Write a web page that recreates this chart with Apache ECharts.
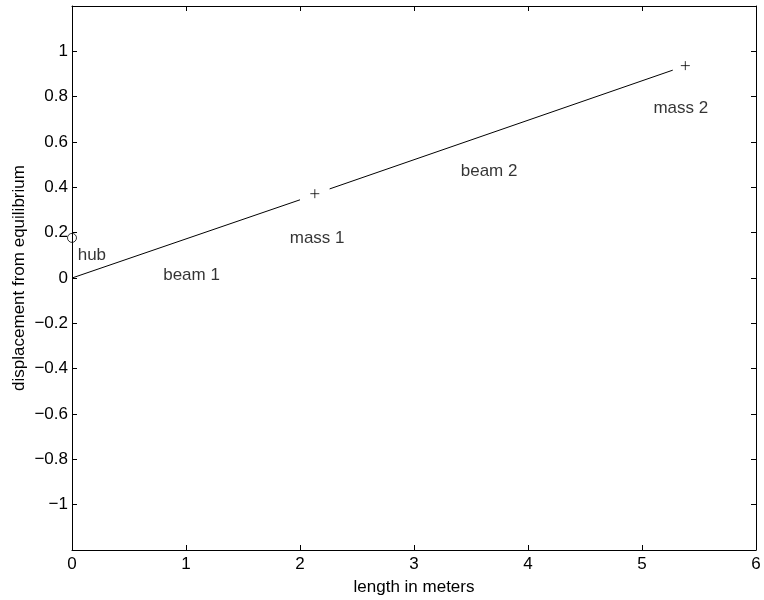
<!DOCTYPE html>
<html>
<head>
<meta charset="utf-8">
<script src="https://cdn.jsdelivr.net/npm/echarts@6/dist/echarts.min.js"></script>
<style>
  html, body { margin: 0; padding: 0; background: #fff; }
  #chart { width: 764px; height: 600px; }
</style>
</head>
<body>
<div id="chart"></div>
<script>
// beam segments (gaps left around the masses)
const beam1X = [0, 2.0];
const beam1Y = [0, 0.345];
const beam2X = [2.26, 5.27];
const beam2Y = [0.393, 0.917];
// masses and hub
const massX = [2.13, 5.38];
const massY = [0.372, 0.937];
const hubX = [0];
const hubY = [0.177];
// text annotations
const noteText = ['hub', 'beam 1', 'mass 1', 'beam 2', 'mass 2'];
const noteX = [0.05, 0.8, 1.91, 3.41, 5.1];
const noteY = [0.1, 0.01, 0.175, 0.47, 0.75];

const font = 'Liberation Sans, Arial, Helvetica, sans-serif';
const fsize = 17;
const black = '#000';

function pairs(xs, ys) {
  return xs.map((x, i) => [x, ys[i]]);
}

// minus sign like the original, and no labels at the box edges
function yFmt(v) {
  if (Math.abs(v) > 1.1) return '';
  return String(+v.toFixed(1)).replace('-', '\u2212');
}

const chart = echarts.init(document.getElementById('chart'));

const baseAxis = {
  type: 'value',
  axisLine: { show: true, onZero: false, lineStyle: { color: black, width: 1 } },
  axisTick: { show: true, inside: true, length: 5, lineStyle: { color: black } },
  splitLine: { show: false },
};

chart.setOption({
  animation: false,
  backgroundColor: '#fff',
  grid: { left: 72, right: 8, top: 6, bottom: 50, outerBoundsMode: 'none' },
  xAxis: [
    Object.assign({}, baseAxis, {
      position: 'bottom', min: 0, max: 6, interval: 1,
      name: 'length in meters', nameLocation: 'middle', nameGap: 29,
      nameMoveOverlap: false,
      nameTextStyle: { color: black, fontSize: fsize, fontFamily: font },
      axisLabel: { color: black, fontSize: fsize, fontFamily: font, margin: 6 },
    }),
    Object.assign({}, baseAxis, {
      position: 'top', min: 0, max: 6, interval: 1,
      axisLabel: { show: false },
    }),
  ],
  yAxis: [
    Object.assign({}, baseAxis, {
      position: 'left', min: -1.2, max: 1.2, interval: 0.2,
      name: 'displacement from equilibrium', nameLocation: 'middle', nameGap: 44,
      nameMoveOverlap: false,
      nameTextStyle: { color: black, fontSize: fsize, fontFamily: font },
      axisLabel: { color: black, fontSize: fsize, fontFamily: font, margin: 4, formatter: yFmt },
    }),
    Object.assign({}, baseAxis, {
      position: 'right', min: -1.2, max: 1.2, interval: 0.2,
      axisLabel: { show: false },
    }),
  ],
  series: [
    {
      type: 'line', data: pairs(beam1X, beam1Y), symbol: 'none',
      lineStyle: { color: black, width: 1 },
    },
    {
      type: 'line', data: pairs(beam2X, beam2Y), symbol: 'none',
      lineStyle: { color: black, width: 1 },
    },
    {
      type: 'scatter', data: pairs(massX, massY),
      symbol: 'path://M5,0L5,10M0,5L10,5', symbolSize: 9,
      itemStyle: { color: 'none', borderColor: black, borderWidth: 1 },
    },
    {
      type: 'scatter', data: pairs(hubX, hubY),
      symbol: 'circle', symbolSize: 9,
      itemStyle: { color: 'rgba(255,255,255,0)', borderColor: black, borderWidth: 1 },
    },
    {
      type: 'scatter', symbolSize: 0,
      data: noteText.map((t, i) => ({ name: t, value: [noteX[i], noteY[i]] })),
      label: {
        show: true, position: 'right', distance: 0,
        formatter: '{b}', color: black, fontSize: fsize, fontFamily: font,
      },
    },
  ],
});
</script>
</body>
</html>
